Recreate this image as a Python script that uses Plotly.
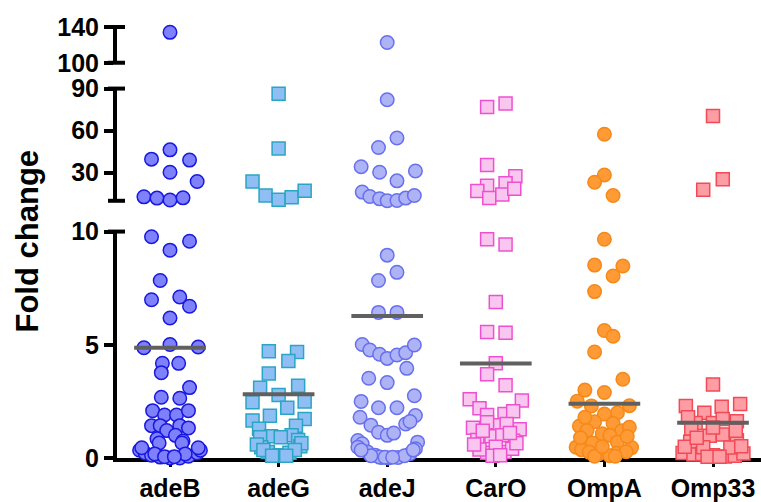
import plotly.graph_objects as go

# ---------------- data ----------------
categories = ["adeB", "adeG", "adeJ", "CarO", "OmpA", "Omp33"]

adeB_values = [134.0,
               46.3, 39.7, 39.0, 30.3, 23.7, 12.8, 11.9, 10.6, 12.1,
               9.77, 9.18, 9.57, 7.84, 6.99, 7.11, 6.70, 6.18, 4.87, 5.01, 4.90, 4.18, 4.18, 3.77,
               3.11, 2.68, 2.64, 2.09, 1.90, 1.90, 2.09, 1.43, 1.43, 1.43, 1.33, 1.21, 1.00, 0.85,
               0.75, 0.66, 0.66, 0.34, 0.22, 0.12, 0.04, 0.00, 0.00, 0.08, 0.22, 0.34,
               0.45, 0.45, 0.18, 0.18, 0.06, 0.06]
adeB_jitter = [0.0,
               0.0, -0.17, 0.18, 0.0, 0.25, -0.24, -0.12, 0.0, 0.12,
               -0.17, 0.0, 0.18, -0.09, -0.17, 0.09, 0.18, 0.0, -0.24, 0.0, 0.26, -0.07, 0.08, -0.08,
               0.18, -0.08, 0.09, -0.16, -0.05, 0.06, 0.17, -0.17, -0.09, 0.09, 0.17, -0.03, 0.05, -0.12,
               0.12, -0.10, 0.11, -0.28, -0.23, -0.17, -0.09, 0.0, 0.09, 0.17, 0.25, 0.28,
               -0.26, 0.26, -0.14, 0.14, -0.05, 0.04]

adeG_values = [86.3, 47.3, 23.7, 13.8, 10.7, 12.6, 17.1,
               4.72, 4.68, 4.28, 3.73, 3.19, 3.10, 2.78, 2.50, 2.46, 2.22, 1.87, 1.72, 1.66, 1.43,
               1.29, 0.96, 1.00, 0.92, 0.80, 0.92, 0.48, 0.52, 0.26, 0.12, 0.23,
               0.60, 0.65, 0.35, 0.35, 0.10, 0.10]
adeG_jitter = [0.0, 0.0, -0.24, -0.12, 0.0, 0.12, 0.24,
               -0.09, 0.17, 0.09, -0.09, 0.18, -0.17, 0.0, 0.24, -0.24, 0.08, -0.08, 0.24, -0.24, 0.16,
               -0.18, -0.07, 0.12, -0.17, 0.18, 0.02, -0.16, 0.20, -0.10, 0.01, 0.10,
               -0.20, 0.21, -0.14, 0.15, -0.06, 0.07]

adeJ_values = [122.6,
               82.0, 54.8, 48.0, 34.3, 30.3, 31.2, 24.2, 16.2, 13.1, 11.4, 10.1, 10.2, 11.9, 13.8,
               8.96, 8.20, 7.84, 6.43, 6.43, 5.01, 4.77, 4.58, 4.40, 4.55, 4.65, 4.99, 3.96, 3.52,
               3.33, 2.75, 2.50, 2.22, 2.22, 1.80, 1.88, 1.45, 1.50, 1.14, 1.00, 1.10, 1.61, 0.77,
               0.63, 0.70, 0.48, 0.26, 0.12, 0.02, 0.00, 0.02, 0.19, 0.41, 0.04,
               0.10, 0.10, 0.03, 0.03, 0.35, 0.35]
adeJ_jitter = [0.0,
               0.0, 0.09, -0.08, -0.24, -0.07, 0.26, 0.09, -0.23, -0.16, -0.07, 0.0, 0.09, 0.17, 0.25,
               0.0, 0.09, -0.08, -0.08, 0.09, -0.23, -0.16, -0.07, 0.0, 0.09, 0.17, 0.25, 0.18, -0.17,
               0.0, 0.25, -0.24, -0.08, 0.09, -0.25, 0.26, -0.15, 0.17, -0.08, 0.0, 0.06, 0.21, -0.27,
               -0.23, 0.28, -0.27, -0.18, -0.11, -0.05, 0.01, 0.10, 0.21, 0.26, -0.07,
               -0.15, 0.16, -0.02, 0.05, -0.24, 0.24]

CarO_values = [76.8, 79.4, 35.5, 27.5, 20.8, 22.5, 16.9, 11.9, 14.5, 18.5,
               9.66, 9.43, 6.89, 5.57, 5.53, 4.18, 3.70, 3.21, 2.60, 2.54, 2.20, 1.90, 1.94, 2.07,
               1.34, 1.27, 1.45, 1.58, 1.50, 0.80, 0.76, 0.96, 1.00, 0.23, 0.26, 0.38, 0.41, 0.50,
               0.10, 0.12, 0.60, 0.65, 1.20, 1.10]
CarO_jitter = [-0.08, 0.09, -0.08, 0.18, -0.08, 0.09, -0.17, -0.06, 0.06, 0.17,
               -0.08, 0.09, 0.0, -0.08, 0.09, 0.0, -0.08, 0.09, -0.24, 0.24, -0.15, -0.08, 0.08, 0.16,
               -0.21, 0.22, 0.01, -0.08, 0.10, -0.17, 0.16, -0.04, 0.06, -0.08, 0.08, -0.15, 0.15, 0.0,
               -0.03, 0.04, -0.20, 0.19, -0.12, 0.13]

OmpA_values = [57.4, 28.4, 23.2, 13.8,
               9.66, 8.52, 8.48, 8.04, 7.35, 5.63, 5.38, 4.68, 3.48, 3.00, 2.89, 2.51, 2.30, 2.31,
               2.00, 1.94, 1.60, 1.52, 1.41, 1.21, 1.20, 1.36, 1.07, 1.00, 0.66, 0.70, 0.48, 0.46,
               0.36, 0.19, 0.21, 0.28, 0.26, 0.10,
               0.08, 0.08, 0.50, 0.90, 0.95, 1.80]
OmpA_jitter = [0.0, 0.0, -0.09, 0.08,
               0.0, -0.09, 0.17, 0.08, -0.09, 0.0, 0.08, -0.09, 0.17, -0.18, 0.0, -0.25, -0.12, 0.23,
               0.12, 0.0, -0.09, 0.08, -0.23, -0.16, 0.16, 0.23, -0.02, 0.05, -0.11, 0.12, -0.26, 0.25,
               -0.21, -0.05, 0.11, 0.20, -0.14, 0.05,
               -0.09, 0.10, -0.02, -0.22, 0.21, -0.18]

Omp33_values = [70.4, 25.4, 17.8,
                3.25, 2.30, 2.00, 2.26, 2.38, 1.62, 1.55, 1.55, 1.80, 1.72, 0.98, 1.04, 0.78, 0.72,
                0.22, 0.16, 0.18, 0.12, 0.07, 0.10, 0.20, 0.48, 0.46, 1.30, 1.20,
                0.50, 0.52, 0.05, 0.05, 0.90, 1.35]
Omp33_jitter = [0.0, 0.09, -0.09,
                0.0, -0.25, -0.08, 0.08, 0.25, 0.22, -0.16, 0.0, -0.23, 0.09, -0.03, 0.09, 0.22, -0.21,
                -0.28, -0.18, -0.10, 0.0, 0.11, 0.20, 0.28, -0.09, 0.16, -0.20, 0.21,
                -0.26, 0.26, -0.05, 0.06, -0.15, 0.0]

center_lines = [4.87, 2.82, 6.27, 4.17, 2.40, 1.56]

series_values = [adeB_values, adeG_values, adeJ_values, CarO_values, OmpA_values, Omp33_values]
series_jitter = [adeB_jitter, adeG_jitter, adeJ_jitter, CarO_jitter, OmpA_jitter, Omp33_jitter]

# ---------------- styles ----------------
symbols = ["circle", "square", "circle", "square", "circle", "square"]
fills = ["#7F80FB", "#8EBEF4", "#AEB3F6", "#F8C6EE", "#FF9A35", "#FF9DA4"]
edges = ["#1818E0", "#2AA5C3", "#6770EE", "#EE50D0", "#F5891A", "#F24A57"]

# broken axis segments: (axis name, value range)
segments = [("y", (0, 10)), ("y2", (10, 90)), ("y3", (100, 140))]

fig = go.Figure()

for i, (vals, jit) in enumerate(zip(series_values, series_jitter)):
    for ax, (lo, hi) in segments:
        xs, ys = [], []
        for v, j in zip(vals, jit):
            in_seg = (v < 10) if ax == "y" else (lo <= v <= hi)
            if in_seg:
                xs.append(i + j)
                ys.append(v)
        if not xs:
            continue
        size = 13.5 if symbols[i] == "circle" else 13
        fig.add_trace(go.Scatter(
            x=xs, y=ys, xaxis="x", yaxis=ax, mode="markers",
            cliponaxis=False, showlegend=False, hoverinfo="y",
            marker=dict(symbol=symbols[i], size=size, color=fills[i],
                        line=dict(color=edges[i], width=1.5)),
        ))

for i, m in enumerate(center_lines):
    fig.add_trace(go.Scatter(
        x=[i - 0.33, i + 0.33], y=[m, m], xaxis="x", yaxis="y", mode="lines",
        cliponaxis=False, showlegend=False, hoverinfo="skip",
        line=dict(color="#606060", width=4),
    ))

font_family = "Liberation Sans, Arial, sans-serif"
tick_font = dict(family=font_family, size=25, color="black", weight="bold")

W, H = 761, 502
ML, MR, MT, MB = 117, 0, 27, 41
plot_h = H - MT - MB
plot_w = W - ML - MR

def ydom(top_px, bottom_px):
    return [(H - MB - bottom_px) / plot_h, (H - MB - top_px) / plot_h]

dom1 = ydom(233, 461)
dom2 = ydom(89, 202)
dom3 = ydom(27, 63)

common_y = dict(showline=True, linewidth=4, linecolor="black", ticks="outside",
                ticklen=9, tickwidth=4, tickcolor="black", showgrid=False,
                zeroline=False, tickfont=tick_font, anchor="x", fixedrange=True)

fig.update_layout(
    width=W, height=H,
    margin=dict(l=ML, r=MR, t=MT, b=MB, pad=0),
    paper_bgcolor="white", plot_bgcolor="white",
    xaxis=dict(domain=[0, 1], range=[-0.488, 5.442], tickmode="array",
               tickvals=list(range(len(categories))), ticktext=categories,
               showline=True, linewidth=4, linecolor="black", ticks="outside",
               ticklen=5, tickwidth=3, tickcolor="black", showgrid=False,
               zeroline=False, tickfont=dict(family=font_family, size=25, color="black", weight="bold"),
               anchor="y", layer="below traces", fixedrange=True),
    yaxis=dict(domain=dom1, range=[0, 10], tickmode="array", tickvals=[0, 5, 10],
               layer="below traces", **common_y),
    yaxis2=dict(domain=dom2, range=[10, 90], tickmode="array", tickvals=[30, 60, 90],
                **common_y),
    yaxis3=dict(domain=dom3, range=[100, 140], tickmode="array", tickvals=[100, 140],
                **common_y),
)

# caps at the ends of every axis segment
cap_left = -9 / plot_w
cap_right = 8 / plot_w
for d in (dom1[1], dom2[0], dom2[1], dom3[0], dom3[1]):
    fig.add_shape(type="line", xref="paper", yref="paper",
                  x0=cap_left, x1=cap_right, y0=d, y1=d,
                  line=dict(color="black", width=4))

fig.add_annotation(text="Fold change", xref="paper", yref="paper",
                   x=(28 - ML) / plot_w, y=(H - MB - 243) / plot_h,
                   xanchor="center", yanchor="middle", showarrow=False, textangle=-90,
                   font=dict(family=font_family, size=31, color="black", weight="bold"))

fig.write_html("out.html", config={"displayModeBar": False},
               post_script="document.body.style.margin='0px';document.body.style.padding='0px';")
